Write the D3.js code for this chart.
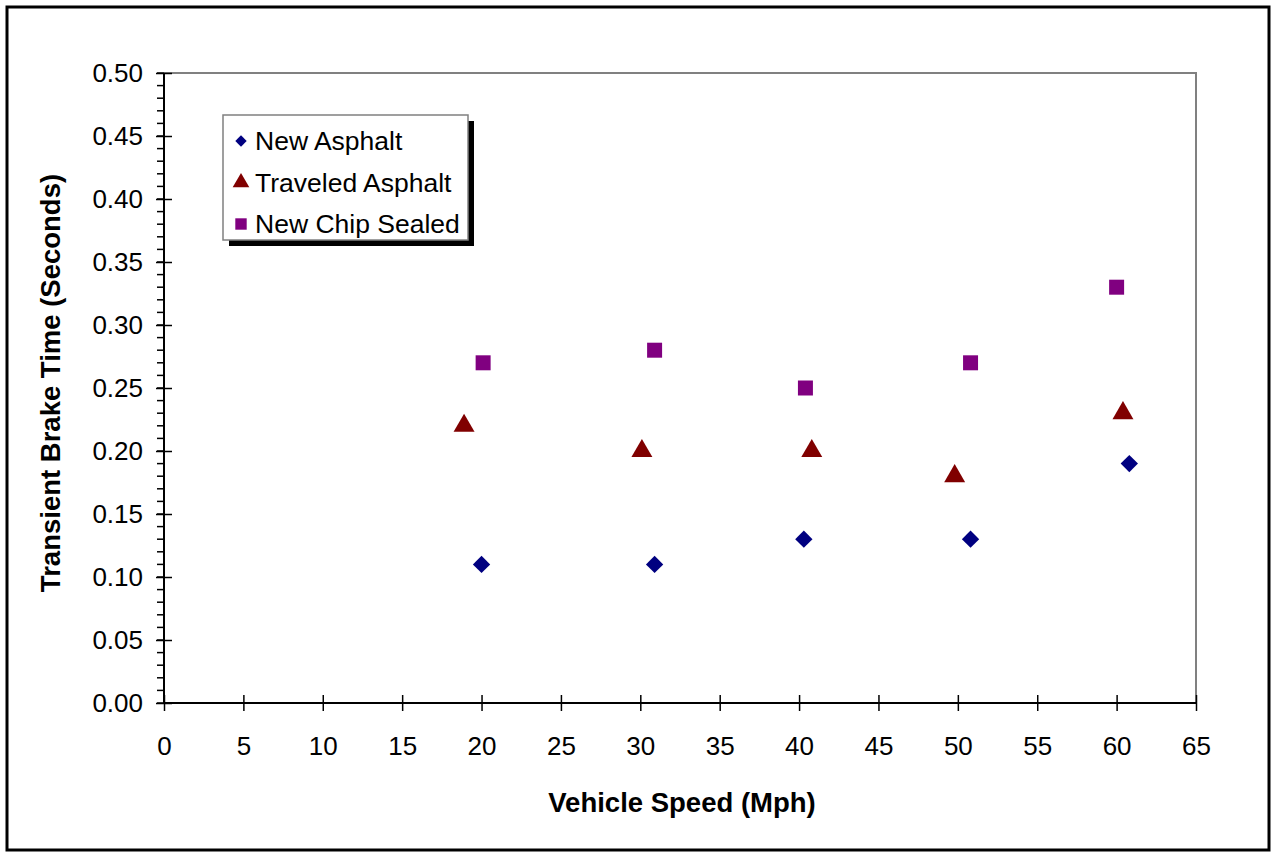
<!DOCTYPE html>
<html>
<head>
<meta charset="utf-8">
<script src="https://cdn.jsdelivr.net/npm/d3@7"></script>
<style>
  body { margin: 0; background: #fff; }
  text { font-family: Arial, "Liberation Sans", sans-serif; }
</style>
</head>
<body>
<div id="chart"></div>
<script>
(function() {

    var width = 1275, height = 853;
    var margin = {top: 73, left: 164, right: 79, bottom: 150};

    // data
    var seriesNames = ["New Asphalt", "Traveled Asphalt", "New Chip Sealed"];
    var seriesColors = ["#000080", "#800000", "#800080"];
    var newAsphalt = [[20.0, 0.11], [30.9, 0.11], [40.3, 0.13], [50.8, 0.13], [60.8, 0.19]];
    var traveledAsphalt = [[18.9, 0.22], [30.1, 0.20], [40.8, 0.20], [49.8, 0.18], [60.4, 0.23]];
    var newChipSealed = [[20.1, 0.27], [30.9, 0.28], [40.4, 0.25], [50.8, 0.27], [60.0, 0.33]];
    var xTicks = [0, 5, 10, 15, 20, 25, 30, 35, 40, 45, 50, 55, 60, 65];
    var yTicks = [0, 0.05, 0.10, 0.15, 0.20, 0.25, 0.30, 0.35, 0.40, 0.45, 0.50];
    var yMinor = d3.range(0, 51).map(function(d) { return d / 100; });

    var series = [newAsphalt, traveledAsphalt, newChipSealed];
    // diamond = square turned 45deg
    var shapes = [d3.symbolSquare, d3.symbolTriangle, d3.symbolSquare];
    var rotate = [45, 0, 0];
    var sizes = [150, 190, 225];
    var legendSizes = [65, 120, 130];

    var svg = d3.select("#chart").append("svg")
        .attr("width", width)
        .attr("height", height);

    // outer frame
    svg.append("rect")
        .attr("x", 7).attr("y", 7)
        .attr("width", 1262).attr("height", 843)
        .attr("fill", "none").attr("stroke", "#000").attr("stroke-width", 3);

    var x = d3.scaleLinear().domain([0, 65]).range([margin.left, width - margin.right]);
    var y = d3.scaleLinear().domain([0, 0.5]).range([height - margin.bottom, margin.top]);

    // plot border (top / right)
    svg.append("path")
        .attr("d", "M" + x(0) + "," + y(0.5) + "H" + x(65) + "V" + y(0))
        .attr("fill", "none").attr("stroke", "#808080").attr("stroke-width", 2);

    // y minor ticks
    svg.append("g").selectAll("line")
        .data(yMinor)
        .enter().append("line")
        .attr("x1", x(0) - 7).attr("x2", x(0))
        .attr("y1", function(d) { return y(d); })
        .attr("y2", function(d) { return y(d); })
        .attr("stroke", "#000").attr("stroke-width", 1.5);

    // y axis
    var yAxis = svg.append("g")
        .attr("transform", "translate(" + x(0) + ",0)")
        .call(d3.axisLeft(y).tickValues(yTicks).tickFormat(d3.format(".2f")).tickSize(8).tickPadding(13));
    yAxis.selectAll(".tick line").attr("x2", 8).attr("x1", -8).attr("stroke-width", 1.5);
    yAxis.select(".domain").remove();
    yAxis.selectAll("text").attr("font-size", 26).attr("fill", "#000")
        .attr("font-family", "Arial, 'Liberation Sans', sans-serif");

    // x axis
    var xAxis = svg.append("g")
        .attr("transform", "translate(0," + y(0) + ")")
        .call(d3.axisBottom(x).tickValues(xTicks).tickSize(8).tickPadding(26));
    xAxis.selectAll(".tick line").attr("y1", -8).attr("y2", 8).attr("stroke-width", 1.5);
    xAxis.select(".domain").remove();
    xAxis.selectAll("text").attr("font-size", 26).attr("fill", "#000")
        .attr("font-family", "Arial, 'Liberation Sans', sans-serif");

    // axis lines
    svg.append("line")
        .attr("x1", x(0)).attr("x2", x(0)).attr("y1", y(0.5)).attr("y2", y(0))
        .attr("stroke", "#000").attr("stroke-width", 2);
    svg.append("line")
        .attr("x1", x(0)).attr("x2", x(65)).attr("y1", y(0)).attr("y2", y(0))
        .attr("stroke", "#000").attr("stroke-width", 2);

    // axis titles
    svg.append("text")
        .attr("x", (x(0) + x(65)) / 2 + 2).attr("y", 812)
        .attr("text-anchor", "middle")
        .attr("font-size", 27.5).attr("font-weight", "bold")
        .text("Vehicle Speed (Mph)");

    svg.append("text")
        .attr("transform", "translate(60," + ((y(0) + y(0.5)) / 2 - 5) + ") rotate(-90)")
        .attr("text-anchor", "middle")
        .attr("font-size", 27.5).attr("font-weight", "bold")
        .text("Transient Brake Time (Seconds)");

    // markers
    series.forEach(function(s, i) {
        svg.append("g").selectAll("path")
            .data(s)
            .enter().append("path")
            .attr("transform", function(d) {
                return "translate(" + x(d[0]) + "," + y(d[1]) + ") rotate(" + rotate[i] + ")";
            })
            .attr("d", d3.symbol().type(shapes[i]).size(sizes[i]))
            .attr("fill", seriesColors[i]);
    });

    // legend
    var legend = svg.append("g").attr("transform", "translate(223,115)");
    legend.append("rect")
        .attr("x", 6).attr("y", 6).attr("width", 245).attr("height", 125)
        .attr("fill", "#000");
    legend.append("rect")
        .attr("x", 0).attr("y", 0).attr("width", 245).attr("height", 125)
        .attr("fill", "#fff").attr("stroke", "#808080").attr("stroke-width", 1.5);

    var item = legend.selectAll(".item")
        .data(seriesNames)
        .enter().append("g")
        .attr("class", "item")
        .attr("transform", function(d, i) { return "translate(0," + (26 + i * 41.5) + ")"; });
    item.append("path")
        .attr("transform", function(d, i) { return "translate(18,0) rotate(" + rotate[i] + ")"; })
        .attr("d", function(d, i) { return d3.symbol().type(shapes[i]).size(legendSizes[i])(); })
        .attr("fill", function(d, i) { return seriesColors[i]; });
    item.append("text")
        .attr("x", 32).attr("y", 9)
        .attr("font-size", 26.5)
        .text(function(d) { return d; });

})();
</script>
</body>
</html>
